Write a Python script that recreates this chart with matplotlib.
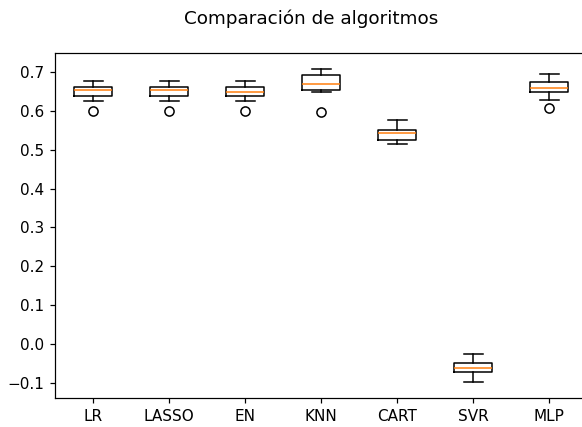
"""Boxplot comparison of regression algorithms."""

import matplotlib

matplotlib.use("Agg")
import matplotlib.pyplot as plt

NAMES = ["LR", "LASSO", "EN", "KNN", "CART", "SVR", "MLP"]
WHISLO = [0.624, 0.624, 0.624, 0.649, 0.515, -0.098, 0.627]
Q1 = [0.639, 0.639, 0.639, 0.654, 0.525, -0.072, 0.648]
MEDIAN = [0.652, 0.652, 0.648, 0.668, 0.542, -0.062, 0.659]
Q3 = [0.660, 0.660, 0.660, 0.693, 0.550, -0.048, 0.673]
WHISHI = [0.676, 0.676, 0.676, 0.708, 0.575, -0.025, 0.694]
FLIERS = [[0.599], [0.599], [0.599], [0.597], [], [], [0.606]]

DPI = 110
W_PX, H_PX = 582, 427


def main() -> None:
    fig = plt.figure(figsize=(W_PX / DPI, H_PX / DPI), dpi=DPI)
    fig.suptitle("Comparación de algoritmos", x=311 / W_PX, y=1 - 18.5 / H_PX, va="center", fontsize=12)

    # axes box in pixels: left 55, right ~587 (runs past the crop), top 53, bottom 398
    ax = fig.add_axes([55 / W_PX, (H_PX - 398) / H_PX, 532 / W_PX, 345 / H_PX])

    stats = []
    for i, name in enumerate(NAMES):
        stats.append(
            {
                "label": name,
                "whislo": WHISLO[i],
                "q1": Q1[i],
                "med": MEDIAN[i],
                "q3": Q3[i],
                "whishi": WHISHI[i],
                "fliers": FLIERS[i],
            }
        )
    ax.bxp(stats, positions=range(1, len(NAMES) + 1))

    ax.set_xlim(0.5, len(NAMES) + 0.5)
    lo, hi = min(WHISLO), max(WHISHI)
    pad = (hi - lo) * 0.05
    ax.set_ylim(lo - pad, hi + pad)
    ax.set_yticks([-0.1, 0.0, 0.1, 0.2, 0.3, 0.4, 0.5, 0.6, 0.7])

    fig.savefig("out.png", dpi=DPI)
    plt.close(fig)


if __name__ == "__main__":
    main()
